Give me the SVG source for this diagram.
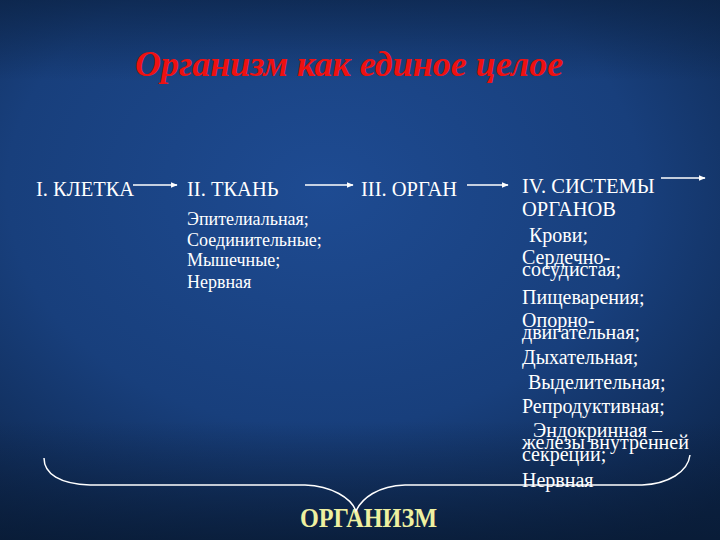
<svg xmlns="http://www.w3.org/2000/svg" width="720" height="540" viewBox="0 0 720 540">
<defs>
<radialGradient id="bg" cx="0.45" cy="0.35" r="0.8">
<stop offset="0" stop-color="#1e4b92"/>
<stop offset="0.55" stop-color="#183f7c"/>
<stop offset="1" stop-color="#0c2346"/>
</radialGradient>
<linearGradient id="shade" x1="0" y1="0" x2="0" y2="1">
<stop offset="0" stop-color="#0a2040" stop-opacity="0.65"/>
<stop offset="0.15" stop-color="#0a2040" stop-opacity="0"/>
<stop offset="0.78" stop-color="#0a1c38" stop-opacity="0"/>
<stop offset="1" stop-color="#081a33" stop-opacity="0.75"/>
</linearGradient>
<marker id="ah" viewBox="0 0 10 10" refX="9" refY="5" markerWidth="7" markerHeight="7" orient="auto" markerUnits="userSpaceOnUse">
<path d="M0,1 L10,5 L0,9 Z" fill="#ffffff"/>
</marker>
<style>
.t{font-family:"Liberation Serif","Times New Roman",serif;fill:#ffffff;}
.h{font-size:20.5px;}
.s{font-size:18px;}
.m{font-size:20px;}
.c{stroke:#ffffff;stroke-width:1.5;fill:none;}
</style>
</defs>
<rect width="720" height="540" fill="url(#bg)"/>
<rect width="720" height="540" fill="url(#shade)"/>
<text x="135" y="76" font-family="Liberation Serif, serif" font-size="36" font-style="italic" font-weight="bold" fill="#ee1111">Организм как единое целое</text>
<g id="cell"><text class="t h" x="36" y="196">I. КЛЕТКА</text></g>
<g id="tissue">
<text class="t h" x="187" y="196">II. ТКАНЬ</text>
<text class="t s" x="187" y="225">Эпителиальная;</text>
<text class="t s" x="187" y="246">Соединительные;</text>
<text class="t s" x="187" y="266">Мышечные;</text>
<text class="t s" x="187" y="288">Нервная</text>
</g>
<g id="organ"><text class="t h" x="361" y="196">III. ОРГАН</text></g>
<g id="systems">
<text class="t h" x="522" y="193">IV. СИСТЕМЫ</text>
<text class="t h" x="522" y="216">ОРГАНОВ</text>
<text class="t m" x="529" y="242">Крови;</text>
<text class="t m" x="522" y="264">Сердечно-</text>
<text class="t m" x="522" y="276">сосудистая;</text>
<text class="t m" x="522" y="304">Пищеварения;</text>
<text class="t m" x="522" y="327">Опорно-</text>
<text class="t m" x="522" y="339">двигательная;</text>
<text class="t m" x="522" y="364">Дыхательная;</text>
<text class="t m" x="528" y="389">Выделительная;</text>
<text class="t m" x="522" y="413">Репродуктивная;</text>
<text class="t m" x="533" y="437">Эндокринная –</text>
<text class="t m" x="522" y="449">железы внутренней</text>
<text class="t m" x="522" y="461">секреции;</text>
<text class="t m" x="522" y="487">Нервная</text>
</g>
<g id="organism"><text x="300" y="527" font-family="Liberation Serif, serif" font-size="28" font-weight="bold" fill="#eef0a0" textLength="137" lengthAdjust="spacingAndGlyphs">ОРГАНИЗМ</text></g>
<g id="connectors">
<line class="c" x1="133" y1="185" x2="177" y2="185" marker-end="url(#ah)"/>
<line class="c" x1="305" y1="185" x2="353" y2="185" marker-end="url(#ah)"/>
<line class="c" x1="467" y1="185" x2="508" y2="185" marker-end="url(#ah)"/>
<line class="c" x1="661" y1="178" x2="705" y2="178" marker-end="url(#ah)"/>
<path class="c" stroke-width="1" d="M44,458 C44,474 60,484 90,485 L305,485 C332,486 351,498 356,511 C362,498 378,486 405,485 L642,485 C668,484 688,472 690,455"/>
</g>
</svg>
